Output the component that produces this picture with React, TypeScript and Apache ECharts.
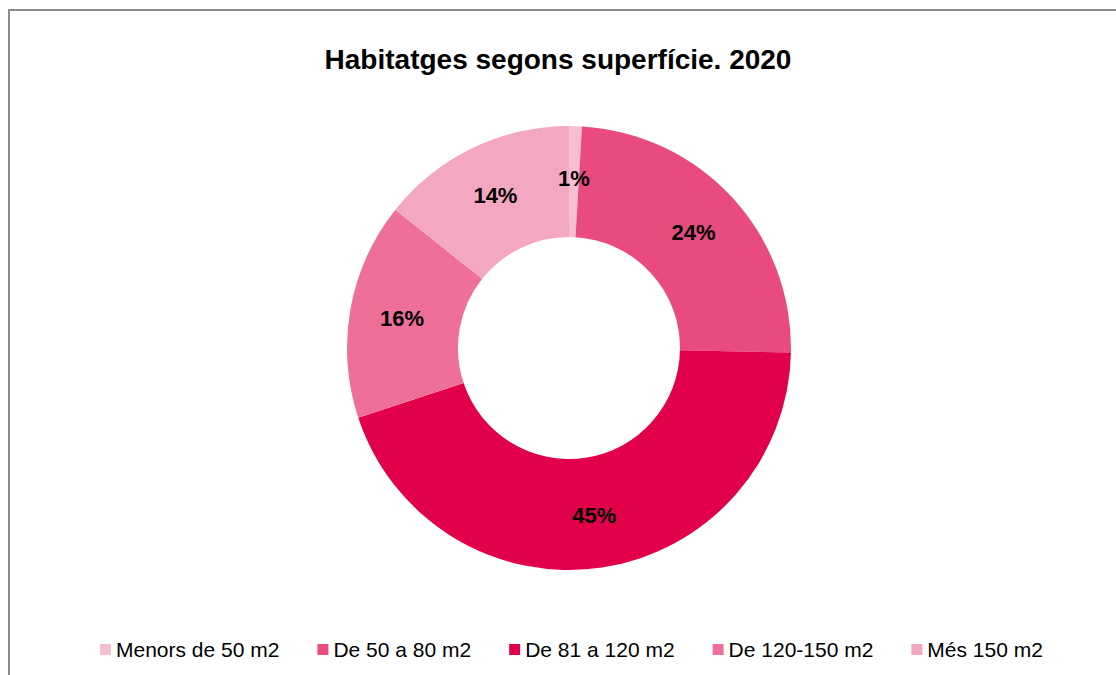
import React, { useEffect, useRef } from "react";
import * as echarts from "echarts";

const categories = ["Menors de 50 m2", "De 50 a 80 m2", "De 81 a 120 m2", "De 120-150 m2", "Més 150 m2"];
const values = [0.93, 24.4, 44.6, 15.8, 14.3];
const colors = ["#F6BED2", "#E94B7F", "#E2004B", "#EE7099", "#F4A7C1"];
const titleText = "Habitatges segons superfície. 2020";

export default function App() {
  const ref = useRef<HTMLDivElement>(null);
  useEffect(() => {
    if (!ref.current) return;
    const chart = echarts.init(ref.current, undefined, { renderer: "svg" });
    chart.setOption({
      animation: false,
      backgroundColor: "#fff",
      title: {
        text: titleText,
        left: "center",
        top: 45,
        padding: 0,
        textStyle: { fontFamily: "'Liberation Sans', Arial, sans-serif", fontSize: 28, fontWeight: "bold", color: "#000" },
      },
      legend: {
        data: categories,
        left: 100,
        top: 639,
        padding: 0,
        itemWidth: 11,
        itemHeight: 11,
        itemGap: 38,
        icon: "rect",
        textStyle: { fontFamily: "'Liberation Sans', Arial, sans-serif", fontSize: 21, color: "#000" },
      },
      graphic: [
        {
          type: "rect",
          shape: { x: 9, y: 10, width: 1300, height: 900 },
          style: { fill: "none", stroke: "#8a8a8a", lineWidth: 2 },
          silent: true,
        },
      ],
      series: [
        {
          type: "pie",
          center: [569, 348],
          radius: [111, 222],
          startAngle: 90,
          clockwise: true,
          avoidLabelOverlap: false,
          data: categories.map((c, i) => ({ name: c, value: values[i], itemStyle: { color: colors[i] } })),
          label: {
            show: true,
            position: "inside",
            formatter: (p: any) => Math.round(p.percent) + "%",
            fontFamily: "'Liberation Sans', Arial, sans-serif",
            fontSize: 22,
            fontWeight: "bold",
            color: "#000",
          },
          labelLine: { show: false },
          itemStyle: { borderWidth: 0 },
          emphasis: { disabled: true },
        },
      ],
    });
    return () => chart.dispose();
  }, []);
  return <div ref={ref} style={{ position: "absolute", left: 0, top: 0, width: 1116, height: 675 }} />;
}
